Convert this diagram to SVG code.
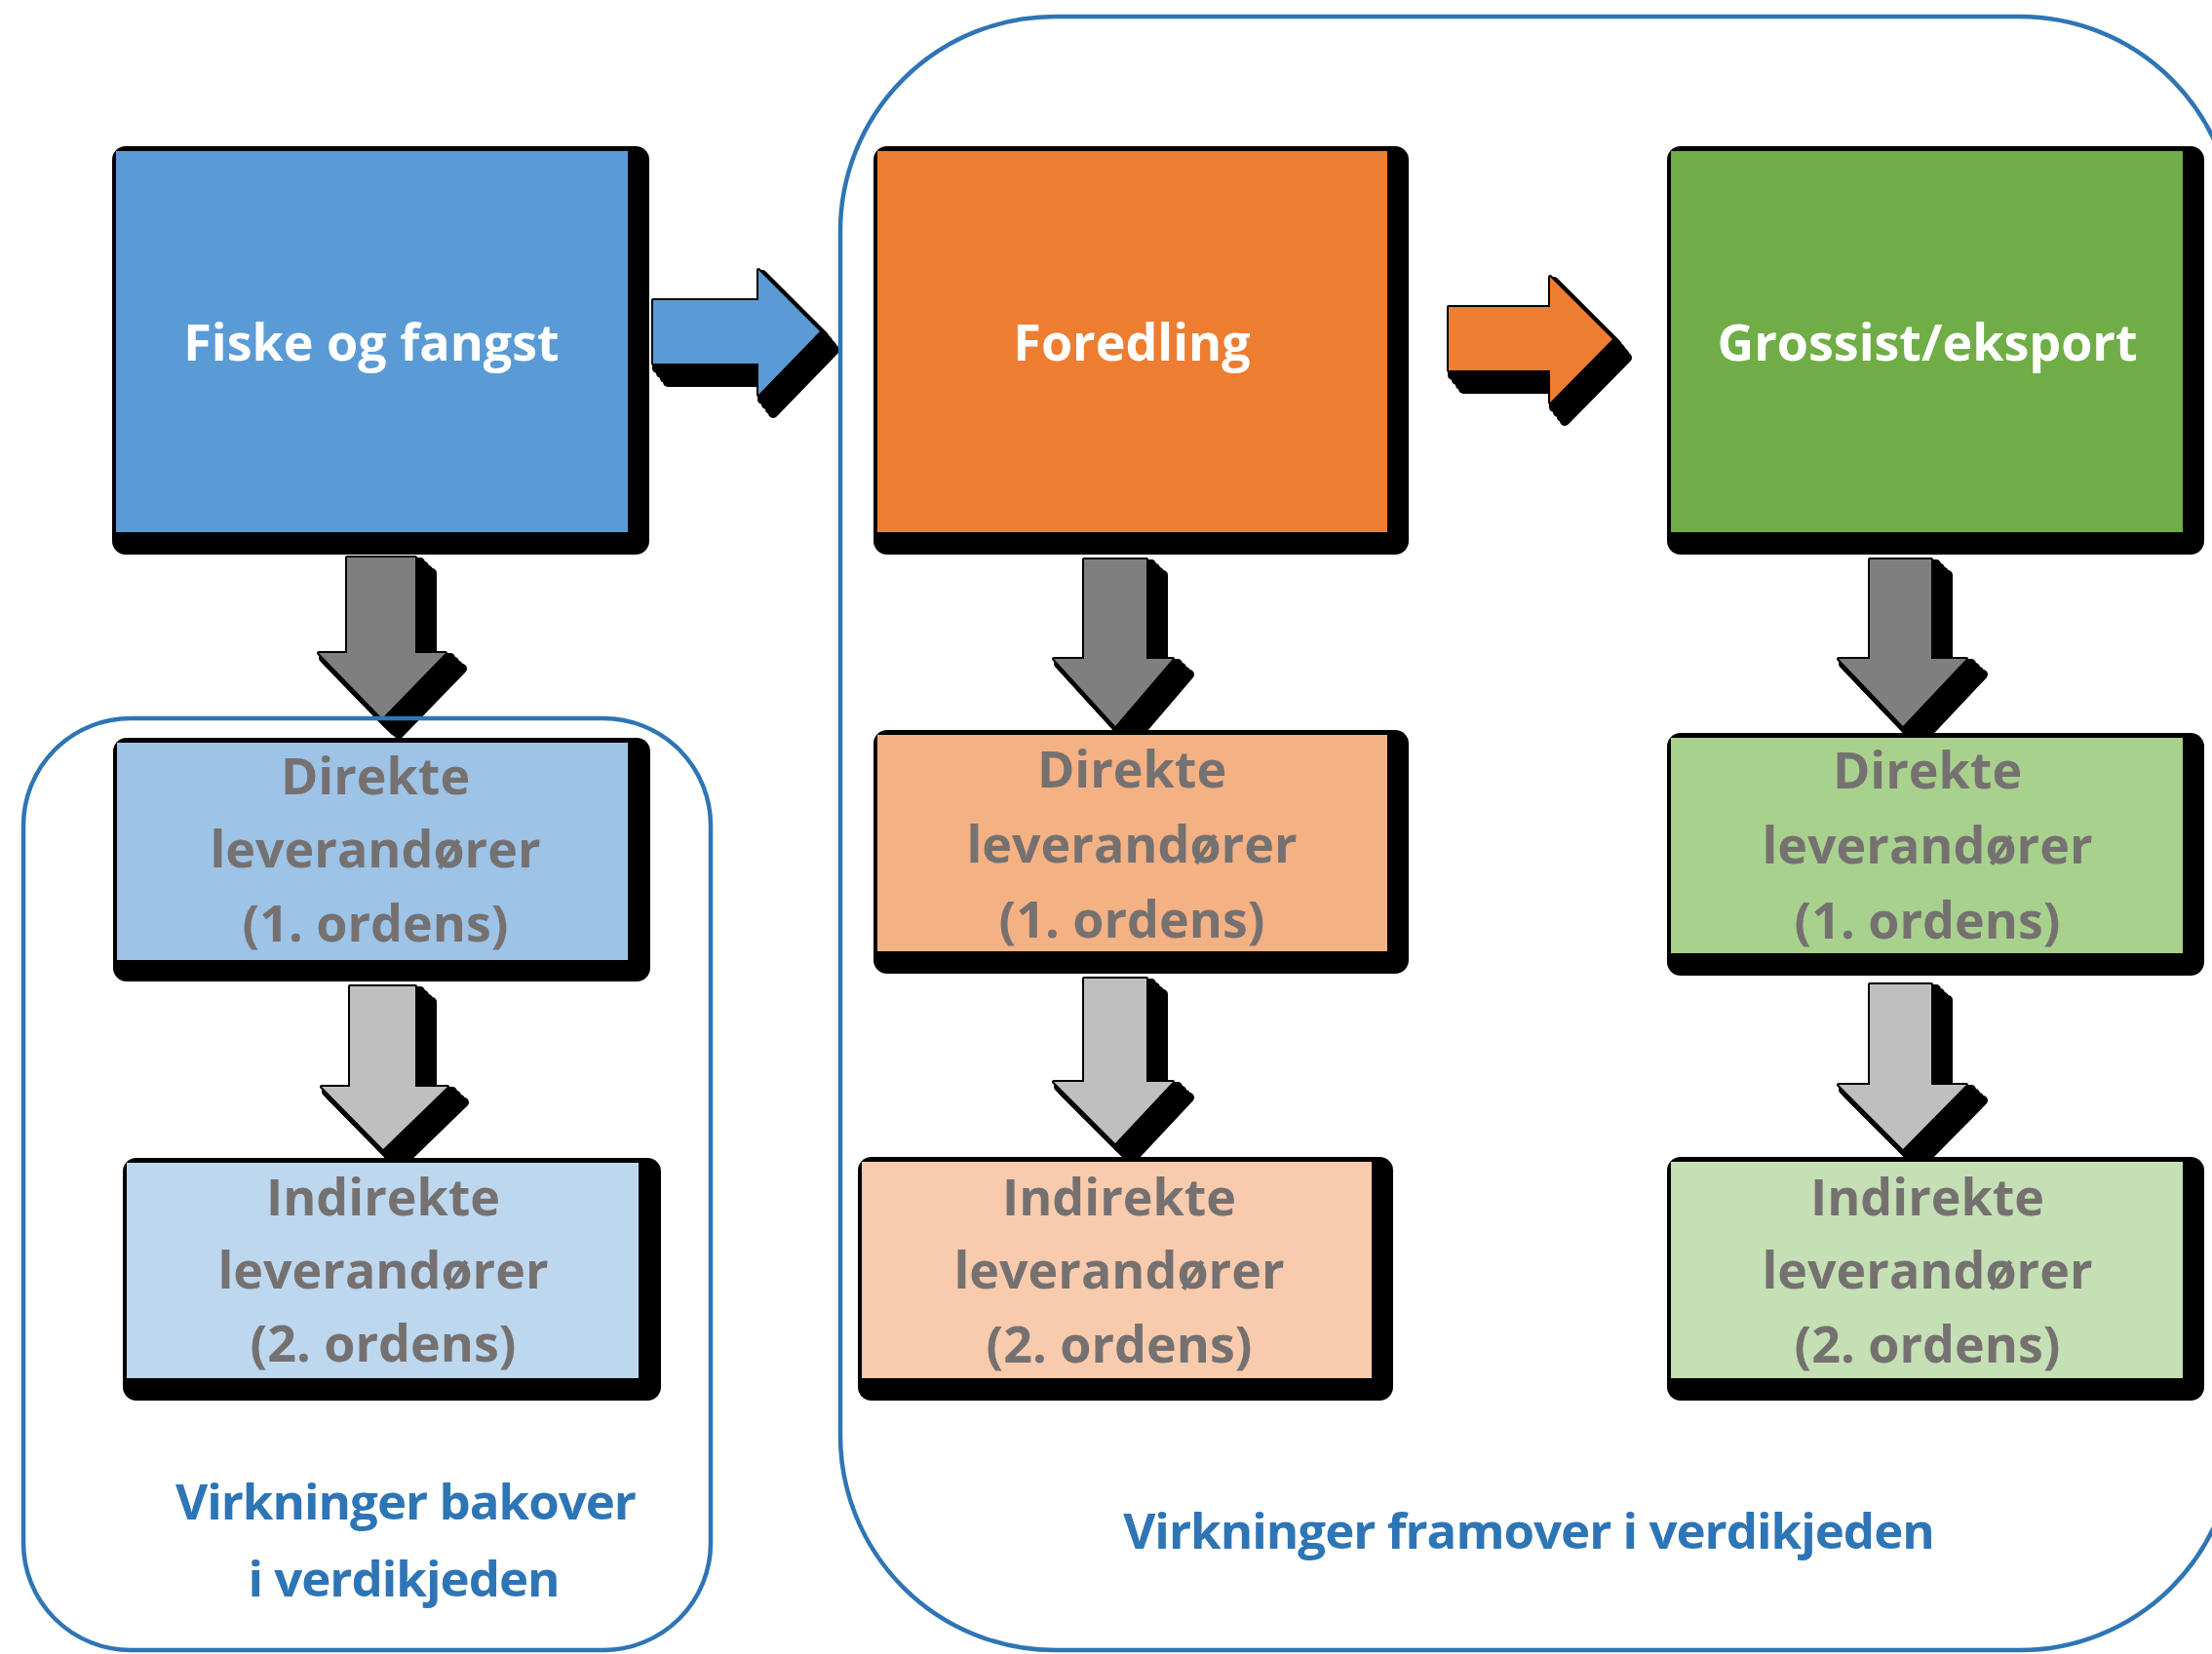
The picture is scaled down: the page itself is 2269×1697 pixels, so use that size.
<svg xmlns="http://www.w3.org/2000/svg" xmlns:xlink="http://www.w3.org/1999/xlink" width="2269" height="1697" viewBox="0 0 2269 1697">
<style>
.sh{fill:#000;stroke:#000;stroke-width:10;stroke-linejoin:round}
.so{fill:#000;stroke:#000;stroke-width:4;stroke-linejoin:round}
.bs{fill:#000}
.t{font-family:"Open Sans","Liberation Sans",sans-serif;font-weight:bold;font-size:52px;text-anchor:middle}
.tw{fill:#fff}
.tg{fill:#767171}
.tb{fill:#2E75B6;font-size:51px;letter-spacing:-1px}
.cont{fill:none;stroke:#2E75B6;stroke-width:4.5}
</style>
<defs>
<path id="pr1" d="M670,308 H778 V277 L841,340 L778,405 V373 H670 Z"/>
<path id="pr2" d="M1486,315 H1590 V284 L1654,348 L1590,413 V380 H1486 Z"/>
<path id="pa1" d="M356,572 H426 V670 H457 L392,737 L327,670 H356 Z"/>
<path id="pa2" d="M359,1012 H426 V1115 H459 L393,1179 L330,1115 H359 Z"/>
<path id="pa3" d="M1112,574 H1176 V676 H1203 L1144,745 L1081,676 H1112 Z"/>
<path id="pa4" d="M1112,1004 H1176 V1110 H1203 L1144,1173 L1081,1110 H1112 Z"/>
<path id="pa5" d="M1918,574 H1981 V676 H2017 L1952,745 L1886,676 H1918 Z"/>
<path id="pa6" d="M1918,1010 H1981 V1113 H2017 L1952,1179 L1886,1113 H1918 Z"/>
<g id="shr1"><use xlink:href="#pr1" class="so"/><use xlink:href="#pr1" class="sh" transform="translate(4,5)"/><use xlink:href="#pr1" class="sh" transform="translate(8,10)"/><use xlink:href="#pr1" class="sh" transform="translate(12,15)"/><use xlink:href="#pr1" class="sh" transform="translate(15,19)"/></g>
<g id="shr2"><use xlink:href="#pr2" class="so"/><use xlink:href="#pr2" class="sh" transform="translate(4,5)"/><use xlink:href="#pr2" class="sh" transform="translate(8,10)"/><use xlink:href="#pr2" class="sh" transform="translate(12,15)"/><use xlink:href="#pr2" class="sh" transform="translate(15,19)"/></g>
<g id="sha1"><use xlink:href="#pa1" class="so"/><use xlink:href="#pa1" class="sh" transform="translate(5,5)"/><use xlink:href="#pa1" class="sh" transform="translate(9,9)"/><use xlink:href="#pa1" class="sh" transform="translate(13,13)"/><use xlink:href="#pa1" class="sh" transform="translate(17,16)"/></g>
<g id="sha2"><use xlink:href="#pa2" class="so"/><use xlink:href="#pa2" class="sh" transform="translate(5,5)"/><use xlink:href="#pa2" class="sh" transform="translate(9,9)"/><use xlink:href="#pa2" class="sh" transform="translate(13,13)"/><use xlink:href="#pa2" class="sh" transform="translate(17,16)"/></g>
<g id="sha3"><use xlink:href="#pa3" class="so"/><use xlink:href="#pa3" class="sh" transform="translate(5,5)"/><use xlink:href="#pa3" class="sh" transform="translate(9,9)"/><use xlink:href="#pa3" class="sh" transform="translate(13,13)"/><use xlink:href="#pa3" class="sh" transform="translate(17,16)"/></g>
<g id="sha4"><use xlink:href="#pa4" class="so"/><use xlink:href="#pa4" class="sh" transform="translate(5,5)"/><use xlink:href="#pa4" class="sh" transform="translate(9,9)"/><use xlink:href="#pa4" class="sh" transform="translate(13,13)"/><use xlink:href="#pa4" class="sh" transform="translate(17,16)"/></g>
<g id="sha5"><use xlink:href="#pa5" class="so"/><use xlink:href="#pa5" class="sh" transform="translate(5,5)"/><use xlink:href="#pa5" class="sh" transform="translate(9,9)"/><use xlink:href="#pa5" class="sh" transform="translate(13,13)"/><use xlink:href="#pa5" class="sh" transform="translate(17,16)"/></g>
<g id="sha6"><use xlink:href="#pa6" class="so"/><use xlink:href="#pa6" class="sh" transform="translate(5,5)"/><use xlink:href="#pa6" class="sh" transform="translate(9,9)"/><use xlink:href="#pa6" class="sh" transform="translate(13,13)"/><use xlink:href="#pa6" class="sh" transform="translate(17,16)"/></g>
</defs>

<g id="connectors">
<g id="arrow-fiske-foredling"><use xlink:href="#shr1"/><use xlink:href="#pr1" fill="#5B9BD5"/></g>
<g id="arrow-foredling-grossist"><use xlink:href="#shr2"/><use xlink:href="#pr2" fill="#ED7D31"/></g>
<g id="arrow-a1"><use xlink:href="#sha1"/><use xlink:href="#pa1" fill="#7F7F7F"/></g>
<g id="arrow-a2"><use xlink:href="#sha2"/><use xlink:href="#pa2" fill="#BFBFBF"/></g>
<g id="arrow-a3"><use xlink:href="#sha3"/><use xlink:href="#pa3" fill="#7F7F7F"/></g>
<g id="arrow-a4"><use xlink:href="#sha4"/><use xlink:href="#pa4" fill="#BFBFBF"/></g>
<g id="arrow-a5"><use xlink:href="#sha5"/><use xlink:href="#pa5" fill="#7F7F7F"/></g>
<g id="arrow-a6"><use xlink:href="#sha6"/><use xlink:href="#pa6" fill="#BFBFBF"/></g>
</g>

<g id="fiske">
<rect class="bs" x="115" y="150" width="551" height="419" rx="14"/>
<rect x="119" y="155" width="525" height="391" fill="#5B9BD5"/>
<text class="t tw" x="381" y="370">Fiske og fangst</text>
</g>
<g id="direkte-1">
<rect class="bs" x="116" y="757" width="551" height="250" rx="14"/>
<rect x="120" y="762" width="524" height="223" fill="#9DC3E6"/>
<text class="t tg" x="385" y="815">Direkte</text>
<text class="t tg" x="385" y="890">leverandører</text>
<text class="t tg" x="385" y="966">(1. ordens)</text>
</g>
<g id="indirekte-1">
<rect class="bs" x="126" y="1188" width="552" height="249" rx="14"/>
<rect x="130" y="1193" width="525" height="221" fill="#BDD7EE"/>
<text class="t tg" x="393" y="1247">Indirekte</text>
<text class="t tg" x="393" y="1322">leverandører</text>
<text class="t tg" x="393" y="1397">(2. ordens)</text>
</g>

<g id="foredling">
<rect class="bs" x="896" y="150" width="549" height="419" rx="14"/>
<rect x="900" y="155" width="523" height="391" fill="#ED7D31"/>
<text class="t tw" x="1161" y="370">Foredling</text>
</g>
<g id="direkte-2">
<rect class="bs" x="896" y="749" width="549" height="250" rx="14"/>
<rect x="900" y="754" width="523" height="222" fill="#F4B183"/>
<text class="t tg" x="1161" y="808">Direkte</text>
<text class="t tg" x="1161" y="885">leverandører</text>
<text class="t tg" x="1161" y="962">(1. ordens)</text>
</g>
<g id="indirekte-2">
<rect class="bs" x="880" y="1187" width="549" height="250" rx="14"/>
<rect x="884" y="1192" width="523" height="222" fill="#F8CBAD"/>
<text class="t tg" x="1148" y="1247">Indirekte</text>
<text class="t tg" x="1148" y="1322">leverandører</text>
<text class="t tg" x="1148" y="1398">(2. ordens)</text>
</g>

<g id="grossist">
<rect class="bs" x="1710" y="150" width="551" height="419" rx="14"/>
<rect x="1714" y="155" width="525" height="391" fill="#70AD47"/>
<text class="t tw" x="1977" y="370">Grossist/eksport</text>
</g>
<g id="direkte-3">
<rect class="bs" x="1710" y="752" width="551" height="249" rx="14"/>
<rect x="1714" y="757" width="525" height="221" fill="#A9D18E"/>
<text class="t tg" x="1977" y="809">Direkte</text>
<text class="t tg" x="1977" y="886">leverandører</text>
<text class="t tg" x="1977" y="963">(1. ordens)</text>
</g>
<g id="indirekte-3">
<rect class="bs" x="1710" y="1187" width="551" height="250" rx="14"/>
<rect x="1714" y="1192" width="525" height="222" fill="#C5E0B4"/>
<text class="t tg" x="1977" y="1247">Indirekte</text>
<text class="t tg" x="1977" y="1322">leverandører</text>
<text class="t tg" x="1977" y="1398">(2. ordens)</text>
</g>

<g id="bakover">
<rect class="cont" x="24" y="737" width="705" height="956" rx="110"/>
<text class="t tb" x="416" y="1559">Virkninger bakover</text>
<text class="t tb" x="414" y="1638">i verdikjeden</text>
</g>
<g id="framover">
<rect class="cont" x="862" y="17" width="1430" height="1676" rx="220"/>
<text class="t tb" x="1568" y="1589">Virkninger framover i verdikjeden</text>
</g>
</svg>
